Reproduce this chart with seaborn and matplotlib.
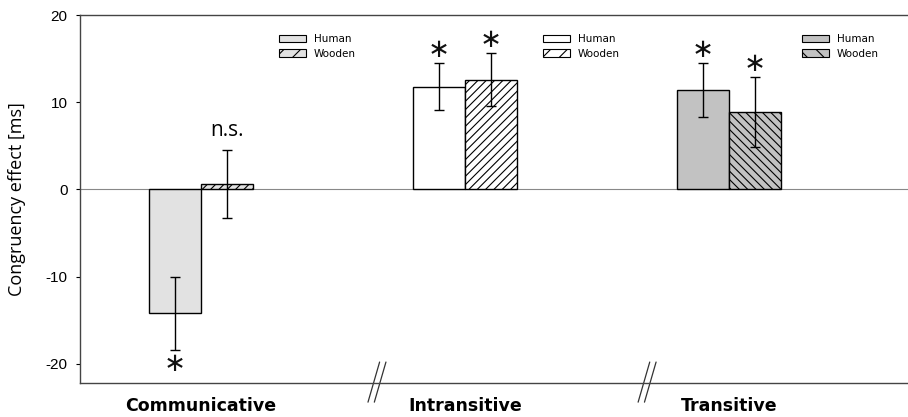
import numpy as np
import pandas as pd
import seaborn as sns
import matplotlib.pyplot as plt
from matplotlib.patches import Patch

categories = ["Communicative", "Intransitive", "Transitive"]
agents = ["Human", "Wooden"]
human_means = [-14.2, 11.8, 11.4]
wooden_means = [0.6, 12.6, 8.9]
human_err = [4.2, 2.7, 3.1]
wooden_err = [3.9, 3.0, 4.0]
human_marks = ["*", "*", "*"]
wooden_marks = ["n.s.", "*", "*"]

group_colors = ["#e2e2e2", "#ffffff", "#c2c2c2"]
group_hatches = ["////", "////", "\\\\\\\\"]

sns.set_style("ticks")
plt.rcParams["font.family"] = ["Liberation Sans", "DejaVu Sans"]
plt.rcParams["hatch.linewidth"] = 0.8
plt.rcParams["axes.unicode_minus"] = False
plt.rcParams["text.color"] = "black"
plt.rcParams["axes.labelcolor"] = "black"
plt.rcParams["xtick.color"] = "black"
plt.rcParams["ytick.color"] = "black"

df = pd.DataFrame({
    "category": categories * 2,
    "agent": [agents[0]] * 3 + [agents[1]] * 3,
    "effect": human_means + wooden_means,
})

fig = plt.figure(figsize=(9.08, 4.17), dpi=100)
ax = fig.add_axes([0.088, 0.0815, 0.912, 0.8825])

sns.barplot(data=df, x="category", y="effect", hue="agent", order=categories,
            hue_order=agents, width=0.394, errorbar=None, legend=False,
            edgecolor="black", linewidth=1, ax=ax)

means = [human_means, wooden_means]
errs = [human_err, wooden_err]
marks = [human_marks, wooden_marks]
bar_conts = list(ax.containers)
for h, cont in enumerate(bar_conts):
    xs = []
    for i, bar in enumerate(cont):
        bar.set_facecolor(group_colors[i])
        bar.set_edgecolor("black")
        if h == 1:
            bar.set_hatch(group_hatches[i])
        xs.append(bar.get_x() + bar.get_width() / 2)
    ax.errorbar(xs, means[h], yerr=errs[h], fmt="none", ecolor="black",
                elinewidth=1, capsize=3.5, capthick=1, zorder=5)
    for x, m, e, lab in zip(xs, means[h], errs[h], marks[h]):
        if lab == "*":
            y = m + e + 1.5 if m >= 0 else m - e - 1.6
            ax.text(x, y, "∗", ha="center", va="center", fontsize=19,
                    family="DejaVu Sans", color="#111111")
        else:
            ax.text(x, m + e + 2.3, lab, ha="center", va="center",
                    fontsize=15, family="Open Sans")

ax.axhline(0, color="#888888", lw=0.8, zorder=0)
ax.set_xlim(-0.458, 2.678)
ax.set_ylim(-22.2, 20)
ax.set_yticks([-20, -10, 0, 10, 20])
ax.set_xlabel("")
ax.set_ylabel("Congruency effect [ms]", fontsize=13, family="Open Sans", labelpad=14)
ax.tick_params(axis="y", labelsize=11, length=3, pad=6)
ax.tick_params(axis="x", length=0, pad=10)
for lbl in ax.get_xticklabels():
    lbl.set_fontweight("bold")
    lbl.set_fontsize(12.5)
    lbl.set_family("DejaVu Sans")

for side in ["top", "bottom", "left"]:
    ax.spines[side].set_color("#444444")
    ax.spines[side].set_linewidth(1)
ax.spines["right"].set_visible(False)

# axis break marks between groups
for bx in [0.667, 1.69]:
    for dx in [-0.012, 0.012]:
        ax.plot([bx + dx + 0.022, bx + dx - 0.022], [0.057, -0.052],
                transform=ax.get_xaxis_transform(), color="#333333",
                lw=0.9, clip_on=False)

legend_x = [0.240, 0.559, 0.872]
for i in range(3):
    handles = [Patch(facecolor=group_colors[i], edgecolor="black", lw=0.8),
               Patch(facecolor=group_colors[i], edgecolor="black", lw=0.8,
                     hatch=group_hatches[i][:2])]
    leg = ax.legend(handles, agents, loc="upper left",
                    bbox_to_anchor=(legend_x[i], 0.948), frameon=False,
                    handlelength=2.6, handleheight=0.75,
                    labelspacing=0.45, handletextpad=0.75, borderpad=0,
                    borderaxespad=0, prop={"family": "DejaVu Sans", "size": 7.5})
    if i < 2:
        ax.add_artist(leg)

plt.savefig("out.png", dpi=100)
